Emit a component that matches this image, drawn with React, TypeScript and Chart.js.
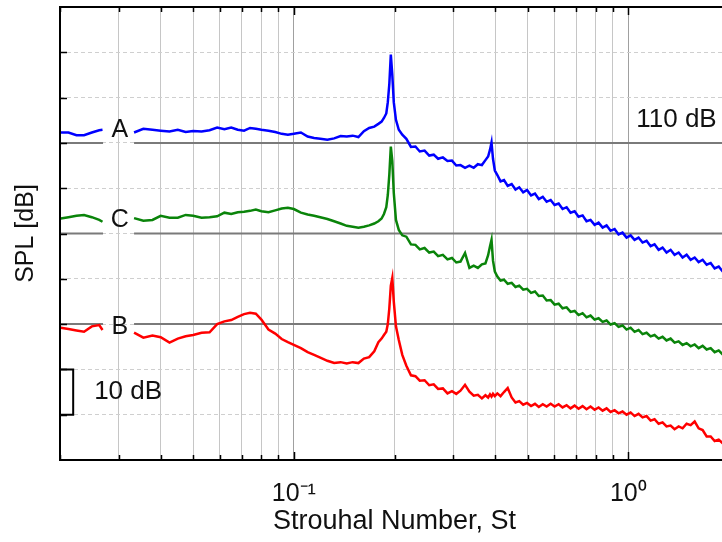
import React, { useEffect, useRef } from 'react';
import { Chart, registerables } from 'chart.js';

Chart.register(...registerables);

// Strouhal number sample points (index 7 is the break left for the curve labels)
const strouhal = [0.0201,0.0212,0.0224,0.0236,0.0249,0.0262,0.0268,0.030,0.0333,0.0355,0.0378,0.040,0.0425,0.045,0.0475,0.050,0.053,0.056,0.059,0.062,0.065,0.068,0.071,0.074,0.077,0.080,0.084,0.088,0.092,0.096,0.100,0.105,0.110,0.115,0.120,0.126,0.132,0.138,0.144,0.150,0.156,0.162,0.168,0.174,0.179,0.183,0.186,0.189,0.191,0.193,0.195,0.197,0.199,0.202,0.206,0.211,0.217,0.224,0.231,0.238,0.246,0.254,0.262,0.270,0.279,0.288,0.297,0.306,0.315,0.325,0.335,0.345,0.355,0.365,0.374,0.381,0.386,0.390,0.394,0.399,0.406,0.415,0.425,0.436,0.448,0.460,0.472,0.485,0.498,0.512,0.526,0.540,0.555,0.570,0.586,0.602,0.619,0.636,0.654,0.672,0.691,0.710,0.730,0.750,0.771,0.793,0.815,0.838,0.861,0.885,0.910,0.935,0.961,0.988,1.016,1.044,1.073,1.103,1.134,1.166,1.198,1.232,1.266,1.301,1.338,1.375,1.414,1.453,1.494,1.536,1.579,1.623,1.668,1.715,1.763,1.812,1.863,1.915,1.968,2.0];

// Spectrum A (blue)
const spectrumA = [112.3,112.3,111.7,111.7,112.3,112.8,112.9,null,
112.3,113.1,112.9,112.7,112.5,112.9,112.4,112.6,112.5,112.8,113.4,113.0,113.4,112.9,112.7,113.3,113.1,112.9,112.7,112.4,112.0,111.8,112.0,112.3,111.4,111.1,110.9,110.7,111.0,111.5,111.4,111.6,111.3,112.6,113.3,113.6,114.2,114.7,115.5,116.5,119.0,123.0,129.5,125.0,119.0,115.1,112.9,
111.8,110.9,109.1,109.2,108.1,108.3,107.2,107.4,106.5,106.8,106.0,106.1,105.0,105.1,104.5,105.0,104.5,105.3,105.1,106.2,107.0,108.5,110.1,106.5,103.9,
102.9,101.5,101.8,100.5,100.9,99.7,100.2,99.1,99.6,98.4,98.8,97.6,98.1,97.0,97.4,96.3,96.6,95.4,95.8,94.6,94.9,93.7,94.0,92.7,93.0,91.9,92.4,91.3,91.8,90.6,91.0,89.8,90.2,89.1,89.6,88.6,89.1,88.0,88.4,87.2,87.6,86.4,86.9,85.8,86.4,85.3,85.8,84.7,85.3,84.2,84.7,83.7,84.2,83.1,83.5,82.3,82.7,81.6,82.0,81.2];

// Spectrum C (green)
const spectrumC = [93.3,93.6,93.9,94.1,93.6,93.0,92.6,null,
93.4,92.8,93.0,93.9,93.5,93.5,94.1,93.9,93.5,93.6,93.8,94.6,94.3,94.7,94.8,95.0,95.3,94.9,94.7,95.1,95.5,95.7,95.4,94.6,94.2,93.9,93.6,93.2,92.7,92.2,91.7,91.5,91.3,91.5,91.8,92.2,92.7,93.3,94.3,95.8,98.5,103.0,109.2,106.0,99.0,93.0,90.8,
89.6,89.3,87.6,87.5,86.5,86.8,85.8,86.0,85.0,85.3,84.3,84.6,83.6,83.8,85.7,82.4,82.9,82.4,83.2,83.4,85.2,87.2,88.6,84.0,81.6,80.5,79.6,79.8,78.9,79.1,78.2,78.5,77.6,77.8,76.9,77.2,76.2,76.3,75.2,75.3,74.3,74.5,73.5,73.7,72.7,72.9,72.0,72.4,71.5,71.9,71.0,71.3,70.5,70.8,69.9,70.2,69.4,69.7,68.8,69.2,68.3,68.7,67.8,68.1,67.3,67.6,66.8,67.2,66.4,66.8,65.9,66.2,65.4,65.8,65.1,65.5,64.7,65.2,64.4,64.7,63.8,64.2,63.3,63.7,63.1];

// Spectrum B (red)
const spectrumB = [69.2,68.9,68.6,68.3,69.5,69.8,68.7,null,
68.1,67.0,67.5,67.1,65.9,66.8,67.3,67.6,68.1,68.2,70.0,70.6,70.9,71.6,72.2,72.5,72.3,71.0,68.8,67.9,66.7,66.0,65.4,64.7,63.8,63.2,62.6,61.9,61.4,61.6,61.3,61.6,61.4,62.4,62.7,64.0,66.0,66.8,67.6,68.3,70.0,73.5,78.5,80.2,75.0,69.5,66.5,
63.2,60.8,58.7,58.5,57.5,57.6,56.5,56.7,55.7,55.8,54.7,55.2,54.6,55.3,56.6,55.1,54.2,54.4,53.6,54.3,53.8,54.5,54.0,54.6,54.1,54.7,54.1,55.0,55.9,53.8,52.7,53.0,52.2,52.6,51.9,52.4,51.7,52.3,51.8,52.4,51.8,52.3,51.6,52.1,51.4,52.0,51.3,51.9,51.2,51.8,51.1,51.6,50.9,51.4,50.6,51.0,50.3,50.7,50.0,50.5,49.7,50.2,49.4,49.7,48.7,49.0,48.0,48.3,47.4,47.6,46.8,47.4,47.0,48.0,47.7,48.5,47.0,46.6,45.2,45.2,44.2,44.5,43.7,44.0,43.3];

// Reference levels (A, C, B)
const referenceLevels = [110, 90, 70];
const curveLabels = ['A', 'C', 'B'];
const curveLabelLevels = [112.9, 93.0, 69.4];
const curveLabelSt = 0.0302;
const labelGap = [0.0269, 0.0333];

// Scale bar (10 dB)
const scaleBarLevels = [60, 50];
const scaleBarSt = [0.0201, 0.0219];

// Axes
const xMin = 0.02, xMax = 2;
const yMin = 40, yMax = 140, yStep = 10;
const xTickValues = [0.02,0.03,0.04,0.05,0.06,0.07,0.08,0.09,0.1,0.2,0.3,0.4,0.5,0.6,0.7,0.8,0.9,1,2];
const xMajorValues = [0.1, 1];
const xMajorLabels = ['10\u207B\u00B9', '10\u2070'];

const FONT = '"Liberation Sans", Arial, Helvetica, sans-serif';

const series = (vals: (number | null)[]) => strouhal.map((s, i) => ({ x: s, y: vals[i] }));
const refLine = (level: number) => [
  { x: xMin, y: level },
  { x: labelGap[0], y: level },
  { x: (labelGap[0] + labelGap[1]) / 2, y: null },
  { x: labelGap[1], y: level },
  { x: xMax, y: level },
];

const overlayPlugin = {
  id: 'overlay',
  afterDraw(chart: any) {
    const { ctx, chartArea, scales } = chart;
    const { left, right, top, bottom } = chartArea;
    const x = scales.x, y = scales.y;
    ctx.save();
    ctx.strokeStyle = '#000';
    ctx.lineWidth = 1.5;
    ctx.beginPath();
    xTickValues.forEach((v) => {
      const px = Math.round(x.getPixelForValue(v)) + 0.5;
      const len = xMajorValues.includes(v) ? 8 : 5;
      ctx.moveTo(px, bottom);
      ctx.lineTo(px, bottom - len);
      ctx.moveTo(px, top);
      ctx.lineTo(px, top + len);
    });
    for (let v = yMin + yStep; v < yMax; v += yStep) {
      const py = Math.round(y.getPixelForValue(v)) + 0.5;
      ctx.moveTo(left, py);
      ctx.lineTo(left + 7, py);
      ctx.moveTo(right, py);
      ctx.lineTo(right - 7, py);
    }
    ctx.stroke();
    ctx.lineWidth = 2;
    ctx.strokeRect(left, top, right - left, bottom - top);

    ctx.fillStyle = '#111';
    ctx.textBaseline = 'middle';
    ctx.font = `25px ${FONT}`;
    ctx.textAlign = 'center';
    curveLabels.forEach((t, i) => {
      ctx.fillText(t, x.getPixelForValue(curveLabelSt), y.getPixelForValue(curveLabelLevels[i]));
    });
    ctx.font = `26px ${FONT}`;
    ctx.textAlign = 'left';
    ctx.fillText('110 dB', x.getPixelForValue(1.056), y.getPixelForValue(115.1));
    ctx.fillText('10 dB', x.getPixelForValue(0.0253), y.getPixelForValue(55));
    ctx.restore();
  },
};

export default function App() {
  const ref = useRef<HTMLCanvasElement | null>(null);
  useEffect(() => {
    if (!ref.current) return;
    const chart = new Chart(ref.current, {
      type: 'line',
      data: {
        datasets: [
          { data: series(spectrumA), borderColor: '#0000ff', borderWidth: 2.5, spanGaps: false },
          { data: series(spectrumC), borderColor: '#0a840a', borderWidth: 2.5, spanGaps: false },
          { data: series(spectrumB), borderColor: '#ff0000', borderWidth: 2.5, spanGaps: false },
          ...referenceLevels.map((l) => ({ data: refLine(l), borderColor: '#7a7a7a', borderWidth: 2, spanGaps: false })),
          {
            data: [
              { x: scaleBarSt[0], y: scaleBarLevels[0] },
              { x: scaleBarSt[1], y: scaleBarLevels[0] },
              { x: scaleBarSt[1], y: scaleBarLevels[1] },
              { x: scaleBarSt[0], y: scaleBarLevels[1] },
            ],
            borderColor: '#000',
            borderWidth: 2,
          },
        ] as any,
      },
      options: {
        animation: false,
        responsive: true,
        maintainAspectRatio: false,
        layout: { padding: { top: 7, right: 11, left: 0, bottom: 0 } },
        elements: { point: { radius: 0 }, line: { tension: 0 } },
        plugins: { legend: { display: false }, tooltip: { enabled: false } },
        scales: {
          x: {
            type: 'logarithmic',
            min: xMin,
            max: xMax,
            afterBuildTicks: (scale: any) => {
              scale.ticks = xTickValues.map((v) => ({ value: v, major: xMajorValues.includes(v) }));
            },
            afterFit: (scale: any) => {
              scale.height = 82;
            },
            ticks: {
              autoSkip: false,
              maxRotation: 0,
              padding: 0,
              color: '#111',
              font: { family: FONT, size: 25 },
              callback: (v: any) => {
                const i = xMajorValues.indexOf(Number(v));
                return i >= 0 ? xMajorLabels[i] : '';
              },
            },
            grid: {
              drawTicks: true,
              tickLength: 19,
              tickColor: 'rgba(0,0,0,0)',
              lineWidth: 1,
              color: (ctx: any) => (ctx.tick && xMajorValues.includes(ctx.tick.value) ? '#a0a0a0' : '#c6c6c6'),
            },
            border: { display: false },
            title: {
              display: true,
              text: 'Strouhal Number, St',
              color: '#111',
              font: { family: FONT, size: 27 },
              padding: { top: 0, bottom: 4 },
            },
          },
          y: {
            min: yMin,
            max: yMax,
            ticks: { display: false, stepSize: yStep },
            afterFit: (scale: any) => {
              scale.width = 60;
            },
            grid: { drawTicks: false, color: '#cfcfcf', lineWidth: 1 },
            border: { display: false, dash: [4, 3] },
            title: {
              display: true,
              text: 'SPL [dB]',
              color: '#111',
              font: { family: FONT, size: 25 },
              padding: { top: 11, bottom: 0 },
            },
          },
        },
      } as any,
      plugins: [overlayPlugin],
    });
    return () => chart.destroy();
  }, []);

  return (
    <div style={{ position: 'fixed', left: 0, top: 0, width: 722, height: 542, overflow: 'hidden', background: '#fff' }}>
      <div style={{ position: 'relative', width: 740, height: 542 }}>
        <canvas ref={ref} />
      </div>
    </div>
  );
}
